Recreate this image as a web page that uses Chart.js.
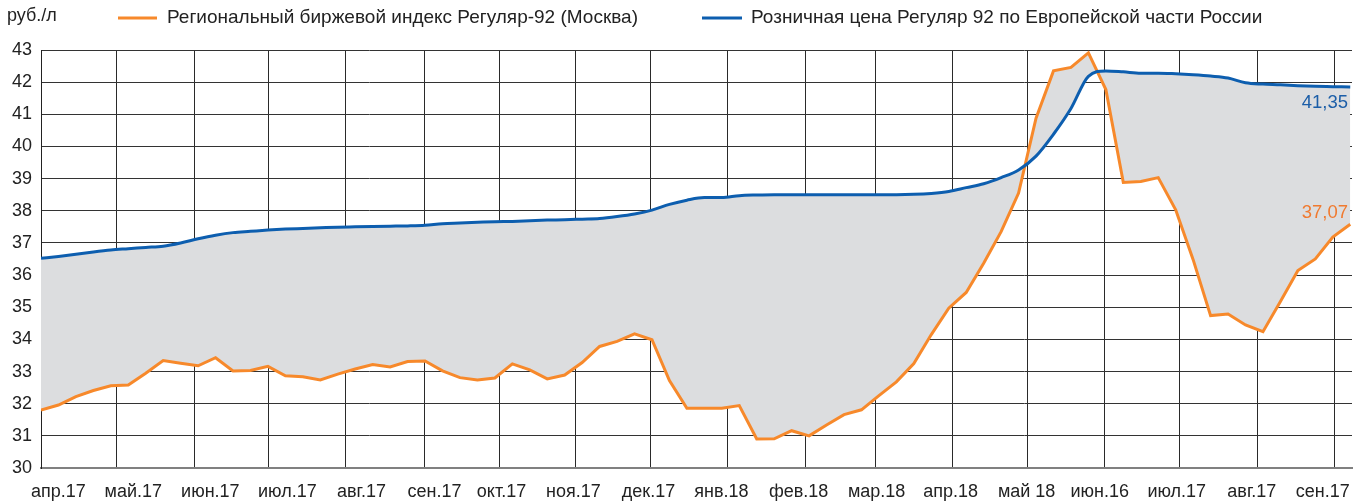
<!DOCTYPE html>
<html>
<head>
<meta charset="utf-8">
<script src="https://cdn.jsdelivr.net/npm/chart.js@4.4.0/dist/chart.umd.min.js"></script>
<style>
  body { margin: 0; background: #fff; }
  #wrap { width: 1367px; height: 504px; position: relative; }
</style>
</head>
<body>
<div id="wrap"><canvas id="priceChart"></canvas></div>
<script>
// weekly points, apr.17 .. sep.18
const indexMoscow = [
  31.80, 31.96, 32.22, 32.41, 32.56, 32.58, 32.95, 33.34, 33.26, 33.18,
  33.43, 33.02, 33.03, 33.16, 32.87, 32.84, 32.74, 32.92, 33.08, 33.22,
  33.14, 33.31, 33.33, 33.02, 32.81, 32.74, 32.80, 33.24, 33.05, 32.77,
  32.89, 33.28, 33.78, 33.94, 34.17, 33.99, 32.72, 31.86, 31.86, 31.86,
  31.94, 30.90, 30.91, 31.16, 31.00, 31.34, 31.66, 31.81, 32.25, 32.68,
  33.25, 34.15, 34.97, 35.46, 36.37, 37.35, 38.55, 40.88, 42.35, 42.46,
  42.91, 41.77, 38.88, 38.91, 39.03, 38.03, 36.48, 34.74, 34.79, 34.45,
  34.24, 35.18, 36.14, 36.50, 37.18, 37.58
];
const retailPrice = [
  36.52, 36.58, 36.65, 36.72, 36.78, 36.82, 36.86, 36.90, 37.00, 37.13,
  37.24, 37.32, 37.36, 37.40, 37.43, 37.45, 37.47, 37.49, 37.50, 37.51,
  37.52, 37.53, 37.55, 37.60, 37.62, 37.64, 37.66, 37.67, 37.69, 37.71,
  37.72, 37.74, 37.76, 37.82, 37.90, 38.02, 38.20, 38.33, 38.41, 38.41,
  38.47, 38.49, 38.50, 38.50, 38.50, 38.50, 38.50, 38.50, 38.50, 38.50,
  38.51, 38.54, 38.60, 38.72, 38.84, 39.03, 39.27, 39.70, 40.38, 41.18,
  42.18, 42.35, 42.32, 42.28, 42.28, 42.26, 42.23, 42.19, 42.13, 41.98,
  41.94, 41.92, 41.89, 41.87, 41.86, 41.85
];
const monthLabels = [
  "апр.17", "май.17", "июн.17", "июл.17", "авг.17", "сен.17", "окт.17", "ноя.17", "дек.17",
  "янв.18", "фев.18", "мар.18", "апр.18", "май 18", "июн.16", "июл.17", "авг.17", "сен.17"
];
const seriesNames = [
  "Региональный биржевой индекс Регуляр-92 (Москва)",
  "Розничная цена Регуляр 92 по Европейской части России"
];
const endLabels = ["37,07", "41,35"];
const unitLabel = "руб./л";

// where the month grid lines and the month names sit (in week units)
const monthLines = [4.35, 8.77, 13.06, 17.47, 21.94, 26.24, 30.59, 34.89, 39.30,
  43.77, 47.78, 52.19, 56.49, 60.95, 65.19, 69.66, 74.07];
const labelSpots = [0.99, 5.29, 9.70, 14.11, 18.36, 22.54, 26.38, 30.50, 34.80,
  38.98, 43.40, 47.87, 52.11, 56.46, 60.65, 65.06, 69.36, 73.43];

const ORANGE = "#f7892b";
const BLUE = "#0d5eaf";
const FONT = "'Liberation Sans', Arial, sans-serif";

const toXY = (arr) => arr.map((v, i) => ({ x: i, y: v }));

// legend, unit text and end values drawn by hand
const extras = {
  id: "extras",
  afterDraw(chart) {
    const c = chart.ctx;
    c.save();
    c.textBaseline = "middle";
    c.fillStyle = "#222";
    c.textAlign = "left";
    c.font = "18px " + FONT;
    c.fillText(unitLabel, 7, 16);

    c.font = "19px " + FONT;
    c.lineWidth = 3;
    c.strokeStyle = ORANGE;
    c.beginPath(); c.moveTo(118, 18); c.lineTo(157, 18); c.stroke();
    c.fillText(seriesNames[0], 167, 18);
    c.strokeStyle = BLUE;
    c.beginPath(); c.moveTo(702, 18); c.lineTo(742, 18); c.stroke();
    c.fillText(seriesNames[1], 751, 18);

    c.font = "18.5px " + FONT;
    c.textAlign = "right";
    const blueLast = chart.getDatasetMeta(0).data.at(-1);
    const orangeLast = chart.getDatasetMeta(1).data.at(-1);
    c.fillStyle = "#1c5ea8";
    c.fillText(endLabels[1], 1348, blueLast.y + 16);
    c.fillStyle = "#f07a30";
    c.fillText(endLabels[0], 1348, orangeLast.y - 11);
    c.restore();
  }
};

new Chart(document.getElementById("priceChart"), {
  type: "line",
  data: {
    datasets: [
      {
        label: seriesNames[1],
        data: toXY(retailPrice),
        borderColor: BLUE,
        borderWidth: 3,
        pointRadius: 0,
        cubicInterpolationMode: "monotone",
        fill: false,
      },
      {
        label: seriesNames[0],
        data: toXY(indexMoscow),
        borderColor: ORANGE,
        borderWidth: 3,
        pointRadius: 0,
        tension: 0,
        fill: "-1",
        backgroundColor: "#dcdddf",
      },
    ],
  },
  options: {
    responsive: true,
    maintainAspectRatio: false,
    animation: false,
    layout: { padding: { top: 50, right: 15, left: 0, bottom: 0 } },
    plugins: {
      legend: { display: false },
      tooltip: { enabled: false },
    },
    scales: {
      x: {
        type: "linear",
        position: "bottom",
        min: 0,
        max: 75.1,
        afterBuildTicks: (s) => { s.ticks = monthLines.map((v) => ({ value: v })); },
        afterFit: (s) => { s.height = 0; },
        ticks: { display: false },
        grid: { color: "#2a2a2a", lineWidth: 1, drawTicks: false },
        border: { color: "#808080", width: 2 },
      },
      xl: {
        type: "linear",
        position: "bottom",
        min: 0,
        max: 75.1,
        afterBuildTicks: (s) => { s.ticks = labelSpots.map((v) => ({ value: v })); },
        afterFit: (s) => { s.height = 36; },
        ticks: {
          autoSkip: false,
          maxRotation: 0,
          padding: 5,
          color: "#222",
          font: { family: FONT, size: 18 },
          callback: (v, i) => monthLabels[i],
        },
        grid: { display: false },
        border: { display: false },
      },
      y: {
        min: 30,
        max: 43,
        afterFit: (s) => { s.width = 41; },
        ticks: {
          stepSize: 1,
          padding: 9,
          color: "#222",
          font: { family: FONT, size: 18 },
        },
        grid: {
          drawTicks: false,
          color: (ctx) => (ctx.tick && ctx.tick.value === 30 ? "rgba(0,0,0,0)" : "#333"),
          lineWidth: 1,
        },
        border: { color: "#222", width: 1 },
      },
    },
  },
  plugins: [extras],
});
</script>
</body>
</html>
